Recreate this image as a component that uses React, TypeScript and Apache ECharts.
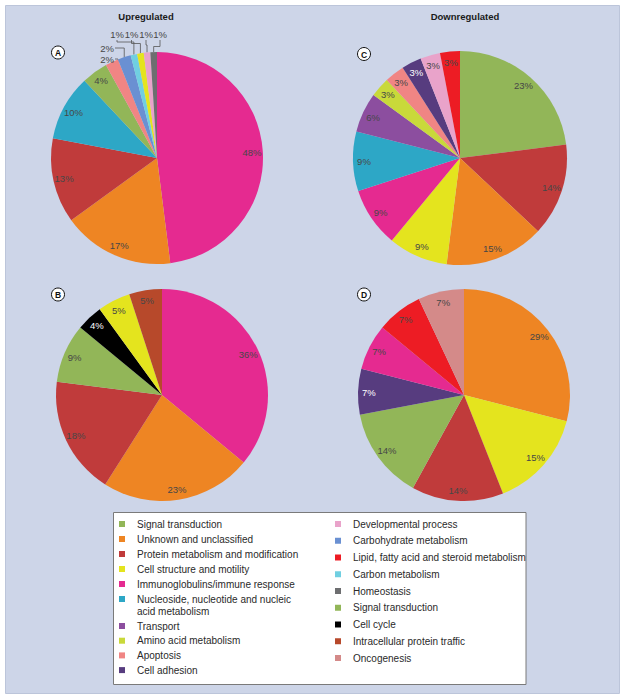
import React, { useEffect, useRef } from 'react';
import * as echarts from 'echarts';

// ---------- data ----------
const CATEGORY_NAMES = [
  'Signal transduction',
  'Unknown and unclassified',
  'Protein metabolism and modification',
  'Cell structure and motility',
  'Immunoglobulins/immune response',
  'Nucleoside, nucleotide and nucleic acid metabolism',
  'Transport',
  'Amino acid metabolism',
  'Apoptosis',
  'Cell adhesion',
  'Developmental process',
  'Carbohydrate metabolism',
  'Lipid, fatty acid and steroid metabolism',
  'Carbon metabolism',
  'Homeostasis',
  'Cell cycle',
  'Intracellular protein traffic',
  'Oncogenesis',
];
const CATEGORY_COLORS = [
  '#92B658', '#EE8523', '#C03B3B', '#E4E41E', '#E52A90', '#2DA7C6',
  '#8C4E9F', '#C9D93A', '#F08584', '#573C7F', '#E9A3CA', '#6A90D2',
  '#ED1C24', '#70CFE1', '#6D6E70', '#000000', '#B7492B', '#D48A89',
];
const WHITE_LABEL_CATEGORIES = ['Cell cycle', 'Cell adhesion'];

// Panel A - Upregulated
const PIE_A_NAMES = [
  'Immunoglobulins/immune response', 'Unknown and unclassified',
  'Protein metabolism and modification',
  'Nucleoside, nucleotide and nucleic acid metabolism', 'Signal transduction',
  'Apoptosis', 'Carbohydrate metabolism', 'Carbon metabolism',
  'Cell structure and motility', 'Developmental process', 'Homeostasis',
];
const PIE_A_VALUES = [48, 17, 13, 10, 4, 2, 2, 1, 1, 1, 1];

// Panel B - Upregulated
const PIE_B_NAMES = [
  'Immunoglobulins/immune response', 'Unknown and unclassified',
  'Protein metabolism and modification', 'Signal transduction', 'Cell cycle',
  'Cell structure and motility', 'Intracellular protein traffic',
];
const PIE_B_VALUES = [36, 23, 18, 9, 4, 5, 5];

// Panel C - Downregulated
const PIE_C_NAMES = [
  'Signal transduction', 'Protein metabolism and modification',
  'Unknown and unclassified', 'Cell structure and motility',
  'Immunoglobulins/immune response',
  'Nucleoside, nucleotide and nucleic acid metabolism', 'Transport',
  'Amino acid metabolism', 'Apoptosis', 'Cell adhesion',
  'Developmental process', 'Lipid, fatty acid and steroid metabolism',
];
const PIE_C_VALUES = [23, 14, 15, 9, 9, 9, 6, 3, 3, 3, 3, 3];

// Panel D - Downregulated
const PIE_D_NAMES = [
  'Unknown and unclassified', 'Cell structure and motility',
  'Protein metabolism and modification', 'Signal transduction',
  'Cell adhesion', 'Immunoglobulins/immune response',
  'Lipid, fatty acid and steroid metabolism', 'Oncogenesis',
];
const PIE_D_VALUES = [29, 15, 14, 14, 7, 7, 7, 7];

const COLUMN_TITLES = ['Upregulated', 'Downregulated'];
const PANEL_LETTERS = ['A', 'B', 'C', 'D'];

const LEGEND_LEFT_1 = CATEGORY_NAMES.slice(0, 5);
const LEGEND_LEFT_2 = CATEGORY_NAMES.slice(5, 6);
const LEGEND_LEFT_3 = CATEGORY_NAMES.slice(6, 10);
const LEGEND_RIGHT = [
  'Developmental process', 'Carbohydrate metabolism',
  'Lipid, fatty acid and steroid metabolism', 'Carbon metabolism',
  'Homeostasis', 'Signal transduction', 'Cell cycle',
  'Intracellular protein traffic', 'Oncogenesis',
];

// ---------- layout / style ----------
const FONT = '"Liberation Sans", Arial, Helvetica, sans-serif';
const BG = '#CDD5E8';
const TEXT = '#2a2a2a';
const PIE_TEXT = '#474747';

const colorOf = (n: string) => CATEGORY_COLORS[CATEGORY_NAMES.indexOf(n)];
const labelColorOf = (n: string) => (WHITE_LABEL_CATEGORIES.includes(n) ? '#ffffff' : PIE_TEXT);

type PieDef = { names: string[]; values: number[]; center: [number, number]; r: number; minInside: number };

const PIES: PieDef[] = [
  { names: PIE_A_NAMES, values: PIE_A_VALUES, center: [157, 158], r: 106, minInside: 3 },
  { names: PIE_B_NAMES, values: PIE_B_VALUES, center: [162, 395], r: 106, minInside: 0 },
  { names: PIE_C_NAMES, values: PIE_C_VALUES, center: [460, 158], r: 107, minInside: 0 },
  { names: PIE_D_NAMES, values: PIE_D_VALUES, center: [464, 395], r: 106, minInside: 0 },
];

// outside label spots for the smallest slices of panel A (by data index)
const A_SPOTS: Record<number, { x: number; y: number; align: string; verticalAlign: string }> = {
  5: { x: 114, y: 59, align: 'right', verticalAlign: 'middle' },
  6: { x: 114, y: 48, align: 'right', verticalAlign: 'middle' },
  7: { x: 117, y: 39, align: 'center', verticalAlign: 'bottom' },
  8: { x: 131.5, y: 39, align: 'center', verticalAlign: 'bottom' },
  9: { x: 146, y: 39, align: 'center', verticalAlign: 'bottom' },
  10: { x: 160, y: 39, align: 'center', verticalAlign: 'bottom' },
};

const PIE_LABEL_STYLE = {
  fontSize: 9.5,
  fontWeight: 'normal',
  fontFamily: FONT,
  textBorderWidth: 0,
  textBorderColor: 'transparent',
  textShadowBlur: 0,
};

function sliceEdgePoint(p: PieDef, idx: number): [number, number] {
  const total = p.values.reduce((a, b) => a + b, 0);
  let before = 0;
  for (let i = 0; i < idx; i++) before += p.values[i];
  const mid = ((before + p.values[idx] / 2) / total) * Math.PI * 2;
  return [p.center[0] + p.r * Math.sin(mid), p.center[1] - p.r * Math.cos(mid)];
}

function mainSeries(p: PieDef, withSmall: boolean) {
  return {
    type: 'pie',
    center: p.center,
    radius: [0, p.r],
    startAngle: 90,
    clockwise: true,
    silent: true,
    avoidLabelOverlap: false,
    emphasis: { disabled: true },
    itemStyle: { borderWidth: 0 },
    label: { show: false },
    labelLine: { show: false },
    data: p.names.map((n, i) => {
      const small = withSmall && p.values[i] < p.minInside;
      return {
        name: n,
        value: p.values[i],
        itemStyle: { color: colorOf(n) },
        label: small
          ? { show: true, position: 'outside', formatter: '{c}%', color: PIE_TEXT, ...PIE_LABEL_STYLE }
          : { show: false },
        labelLine: small ? { show: true, lineStyle: { color: '#555', width: 0.8 } } : { show: false },
      };
    }),
    labelLayout: withSmall
      ? (params: any) => {
          const spot = A_SPOTS[params.dataIndex];
          if (!spot) return {};
          const [sx, sy] = sliceEdgePoint(p, params.dataIndex);
          let pts: number[][];
          if (spot.align === 'right') {
            const ex = Math.max(sx, spot.x + 4);
            pts = [[sx, sy], [ex, sy], [ex, spot.y], [spot.x + 1, spot.y]];
          } else {
            const ey = 42 + (params.dataIndex - 7) * 1.5;
            pts = [[sx, sy], [sx, ey], [spot.x, ey], [spot.x, spot.y + 1]];
          }
          return { x: spot.x, y: spot.y, align: spot.align, verticalAlign: spot.verticalAlign, labelLinePoints: pts };
        }
      : undefined,
  };
}

function labelSeries(p: PieDef) {
  return {
    type: 'pie',
    center: p.center,
    radius: [p.r * 0.74, p.r],
    startAngle: 90,
    clockwise: true,
    silent: true,
    z: 3,
    emphasis: { disabled: true },
    itemStyle: { color: 'rgba(0,0,0,0)', borderWidth: 0 },
    labelLine: { show: false },
    label: { show: true, position: 'inside', formatter: '{c}%', ...PIE_LABEL_STYLE },
    data: p.names.map((n, i) => ({
      name: n,
      value: p.values[i],
      label: { show: p.values[i] >= p.minInside, color: labelColorOf(n), ...PIE_LABEL_STYLE },
    })),
  };
}

function legend(data: string[], left: number, top: number, gap: number, formatter?: any) {
  return {
    orient: 'vertical',
    left,
    top,
    padding: 0,
    itemGap: gap,
    itemWidth: 6,
    itemHeight: 6,
    icon: 'rect',
    selectedMode: false,
    data,
    formatter,
    textStyle: {
      fontSize: 10,
      fontFamily: FONT,
      color: TEXT,
      lineHeight: 12,
      padding: [0, 0, 0, 7],
    },
  };
}

export default function App() {
  const ref = useRef<HTMLDivElement>(null);
  useEffect(() => {
    if (!ref.current) return;
    const chart = echarts.init(ref.current, undefined, { renderer: 'svg' });
    const letterPos: [number, number][] = [[58, 52.5], [58, 294.5], [364, 54], [364, 294.5]];
    const titlePos: [number, number][] = [[146, 16], [465, 16]];
    const graphics: any[] = [
      {
        type: 'rect',
        z: -10,
        shape: { x: 5.5, y: 5.5, width: 614, height: 688 },
        style: { fill: BG, stroke: '#BCC5DA', lineWidth: 1 },
        silent: true,
      },
      {
        type: 'rect',
        z: -5,
        shape: { x: 113.5, y: 512.5, width: 412.5, height: 172 },
        style: { fill: '#ffffff', stroke: '#7a7a7a', lineWidth: 1 },
        silent: true,
      },
      ...COLUMN_TITLES.map((t, i) => ({
        type: 'text',
        x: titlePos[i][0],
        y: titlePos[i][1],
        style: {
          text: t,
          fill: '#1a1a1a',
          fontSize: 9.5,
          fontWeight: 'bold',
          fontFamily: FONT,
          align: 'center',
          verticalAlign: 'middle',
          textAlign: 'center',
          textVerticalAlign: 'middle',
        },
      })),
    ];
    PANEL_LETTERS.forEach((l, i) => {
      graphics.push({
        type: 'circle',
        shape: { cx: letterPos[i][0], cy: letterPos[i][1], r: 6.5 },
        style: { fill: '#ffffff', stroke: '#111', lineWidth: 1 },
        z: 10,
      });
      graphics.push({
        type: 'text',
        x: letterPos[i][0],
        y: letterPos[i][1] + 0.5,
        z: 11,
        style: {
          text: l,
          fill: '#111',
          fontSize: 8.5,
          fontWeight: 'bold',
          fontFamily: FONT,
          align: 'center',
          verticalAlign: 'middle',
          textAlign: 'center',
          textVerticalAlign: 'middle',
        },
      });
    });

    chart.setOption({
      animation: false,
      backgroundColor: '#ffffff',
      graphic: graphics,
      legend: [
        legend(LEGEND_LEFT_1, 119, 518, 3),
        legend(LEGEND_LEFT_2, 119, 581, 3, () => ' \nNucleoside, nucleotide and nucleic\nacid metabolism'),
        legend(LEGEND_LEFT_3, 119, 620, 2.7),
        legend(LEGEND_RIGHT, 335, 518, 4.75),
      ],
      series: [
        mainSeries(PIES[0], true),
        mainSeries(PIES[1], false),
        mainSeries(PIES[2], false),
        mainSeries(PIES[3], false),
        labelSeries(PIES[0]),
        labelSeries(PIES[1]),
        labelSeries(PIES[2]),
        labelSeries(PIES[3]),
      ],
    });
    return () => chart.dispose();
  }, []);
  return <div ref={ref} style={{ position: 'absolute', left: 0, top: 0, width: 627, height: 700 }} />;
}
